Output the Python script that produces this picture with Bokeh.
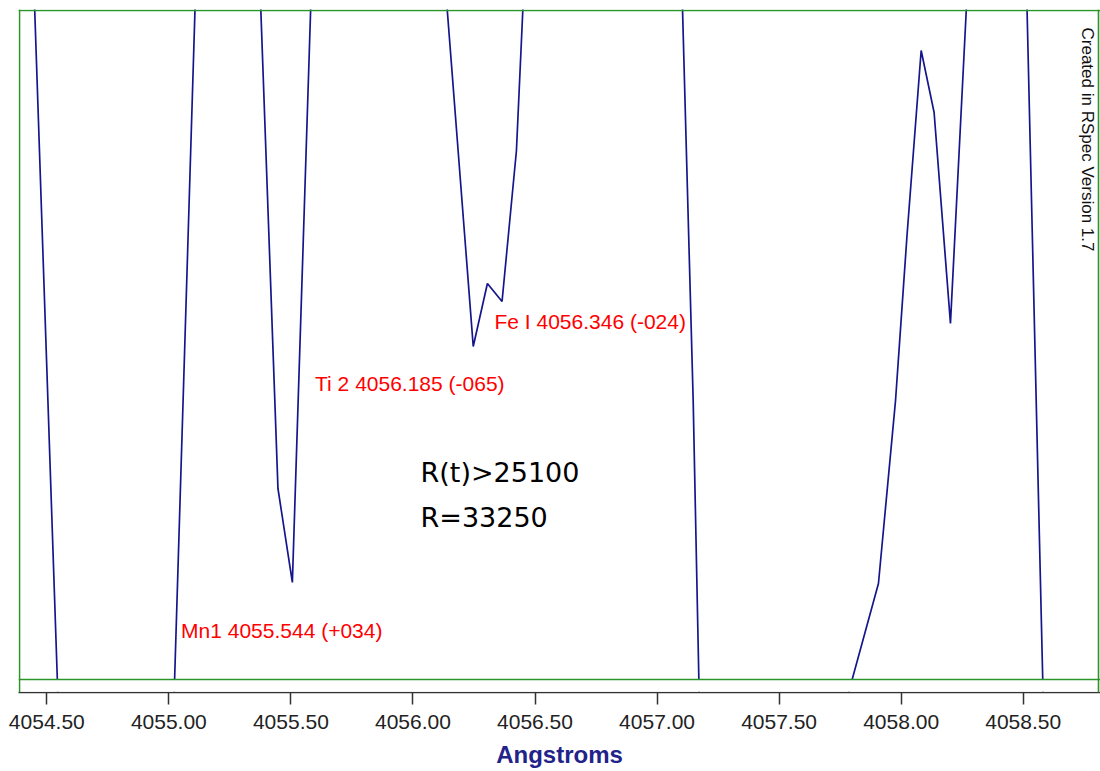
import math
from bokeh.plotting import figure
from bokeh.models import (Range1d, FixedTicker, PrintfTickFormatter, Span,
                          BoxAnnotation, ColumnDataSource, Label)
from bokeh.core.properties import value
from bokeh.embed import file_html
from bokeh.resources import INLINE

# ---- spectrum (wavelength in Angstroms, relative intensity; view shows 0..1) ----
wavelength = [4054.351, 4054.445, 4054.546, 4054.761, 4055.021, 4055.112,
              4055.253, 4055.371, 4055.447, 4055.506, 4055.586, 4055.867,
              4056.128, 4056.247, 4056.305, 4056.365, 4056.424, 4056.450,
              4056.457, 4056.768, 4057.100, 4057.148, 4057.173, 4057.506,
              4057.776, 4057.907, 4057.977, 4058.024, 4058.082, 4058.135,
              4058.202, 4058.275, 4058.387, 4058.512, 4058.582, 4058.858]
intensity = [2.211, 1.060, -0.031, -0.779, -0.031, 1.060,
             1.613, 1.060, 0.2855, 0.145, 1.060, 1.762,
             1.060, 0.4978, 0.5919, 0.565, 0.7907, 1.000,
             1.060, 1.912, 1.060, 0.417, -0.031, -0.928,
             -0.031, 0.1435, 0.417, 0.6637, 0.9402, 0.8475,
             0.5321, 1.060, 1.912, 1.060, -0.031, -0.779]

# ---- line identifications ----
line_labels = ["Mn1 4055.544 (+034)", "Ti 2 4056.185 (-065)", "Fe I 4056.346 (-024)"]
label_x = [4055.050, 4055.599, 4056.334]
label_y = [0.0738, 0.442, 0.5346]

# ---- resolution notes ----
res_texts = ["R(t)>25100", "R=33250"]
res_x = [4056.031, 4056.031]
res_y = [0.3099, 0.2422]

credit_text = "Created in RSpec Version 1.7"

tick_values = [4054.5, 4055.0, 4055.5, 4056.0, 4056.5, 4057.0, 4057.5, 4058.0, 4058.5]

# view window
x_start, x_end = 4054.38406, 4058.81667
y_start, y_end = -0.01943, 1.001495
frame_left, frame_right = 4054.38816, 4058.80848
frame_bottom, frame_top = 0.0, 1.0

p = figure(width=1100, height=771, output_backend="svg", toolbar_location=None,
           x_range=Range1d(x_start, x_end), y_range=Range1d(y_start, y_end),
           y_axis_location=None, min_border_left=18, min_border_right=0,
           min_border_top=9, min_border_bottom=79)
p.title.visible = False
p.grid.visible = False
p.outline_line_color = None
p.background_fill_color = "white"
p.border_fill_color = "white"

src = ColumnDataSource(dict(x=wavelength, y=intensity))
p.line("x", "y", source=src, line_color="#16168c", line_width=1.7)

# mask between green frame and axis line
p.add_layout(BoxAnnotation(left=x_start, right=x_end, bottom=-0.0184, top=frame_bottom,
                           fill_color="white", fill_alpha=1.0, line_color=None))

green = "#2a962a"
for loc, dim in [(frame_top, "width"), (frame_bottom, "width")]:
    p.add_layout(Span(location=loc, dimension=dim, line_color=green, line_width=1.6))
for loc in [frame_left, frame_right]:
    p.add_layout(Span(location=loc, dimension="height", line_color=green, line_width=1.6))

lab_src = ColumnDataSource(dict(x=label_x, y=label_y, t=line_labels))
p.text("x", "y", text="t", source=lab_src, text_color="#ff0000",
       text_font=value("Liberation Sans"), text_font_size="21px",
       text_align="left", text_baseline="alphabetic")

res_src = ColumnDataSource(dict(x=res_x, y=res_y, t=res_texts))
p.text("x", "y", text="t", source=res_src, text_color="#000000",
       text_font=value("DejaVu Sans"), text_font_size="27px",
       text_align="left", text_baseline="alphabetic")

p.add_layout(Label(x=4058.7625, y=0.9746, text=credit_text, angle=-math.pi / 2,
                   text_font="Liberation Sans", text_font_size="17px",
                   text_color="#111111", text_align="left", text_baseline="alphabetic"))

ax = p.xaxis[0]
ax.ticker = FixedTicker(ticks=tick_values)
ax.formatter = PrintfTickFormatter(format="%.2f")
ax.minor_tick_line_color = None
ax.major_tick_in = 0
ax.major_tick_out = 12
ax.major_tick_line_color = "#333333"
ax.major_tick_line_width = 1.5
ax.axis_line_color = "#333333"
ax.axis_line_width = 1.5
ax.major_label_text_font = "Liberation Sans"
ax.major_label_text_font_size = "21px"
ax.major_label_text_color = "#222222"
ax.major_label_standoff = 10
ax.axis_label = "Angstroms"
ax.axis_label_text_font = "Liberation Sans"
ax.axis_label_text_font_size = "24px"
ax.axis_label_text_font_style = "bold"
ax.axis_label_text_color = "#22228a"
ax.axis_label_standoff = 9

open("out.html", "w").write(file_html(p, INLINE))
